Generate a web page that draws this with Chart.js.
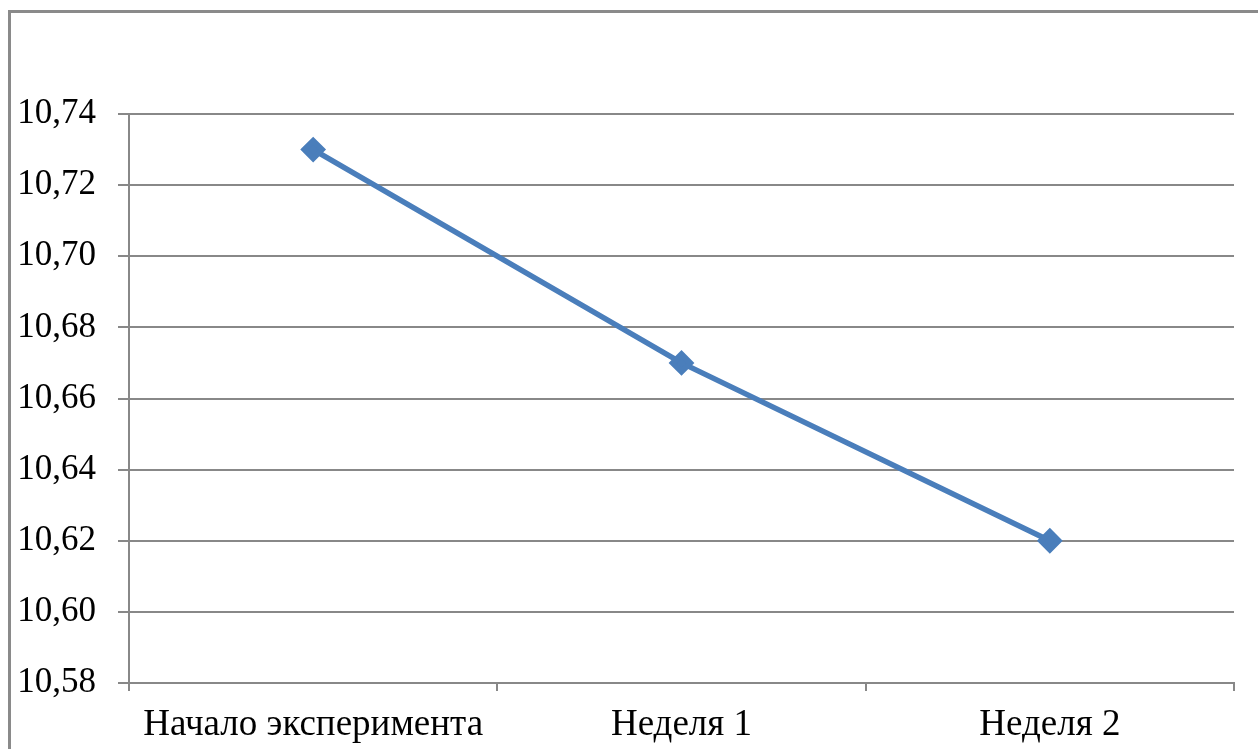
<!DOCTYPE html>
<html>
<head>
<meta charset="utf-8">
<script src="https://cdn.jsdelivr.net/npm/chart.js@4/dist/chart.umd.min.js"></script>
<style>
  html, body { margin: 0; padding: 0; background: #fff; overflow: hidden; }
  #wrap { position: relative; width: 1258px; height: 749px; }
  #frame { position: absolute; left: 8px; top: 10px; width: 1400px; height: 900px;
           border: 3px solid #8a8a8a; box-sizing: border-box; }
  canvas { position: absolute; left: 0; top: 0; }
</style>
</head>
<body>
<div id="wrap">
  <div id="frame"></div>
  <canvas id="chart" width="1258" height="749"></canvas>
</div>
<script>
// Measurement stages and the recorded values
const categories = ['Начало эксперимента', 'Неделя 1', 'Неделя 2'];
const values = [10.73, 10.67, 10.62];
const yTickValues = [10.58, 10.60, 10.62, 10.64, 10.66, 10.68, 10.70, 10.72, 10.74];

const gridGray = '#888888';
const serif = '"Liberation Serif", "Times New Roman", serif';

new Chart(document.getElementById('chart'), {
  type: 'line',
  data: {
    labels: categories,
    datasets: [{
      data: values,
      borderColor: '#4a7ebb',
      backgroundColor: '#4a7ebb',
      borderWidth: 5.5,
      pointStyle: 'rectRot',
      pointRadius: 9,
      pointHoverRadius: 9,
      tension: 0,
      fill: false
    }]
  },
  options: {
    responsive: false,
    animation: false,
    layout: { padding: { top: 114, right: 24, left: 0, bottom: 0 } },
    plugins: { legend: { display: false }, tooltip: { enabled: false } },
    scales: {
      x: {
        offset: true,
        grid: { offset: true, drawOnChartArea: false, drawTicks: true, tickLength: 8, color: gridGray, lineWidth: 2 },
        border: { display: true, color: gridGray, width: 2 },
        ticks: { color: '#000', font: { family: serif, size: 37 }, padding: 12, maxRotation: 0, autoSkip: false },
        afterFit: s => { s.height = 66; }
      },
      y: {
        min: yTickValues[0],
        max: yTickValues[yTickValues.length - 1],
        afterBuildTicks: s => { s.ticks = yTickValues.map(v => ({ value: v })); },
        grid: { color: gridGray, lineWidth: 2, tickLength: 11 },
        border: { display: true, color: gridGray, width: 2 },
        ticks: {
          color: '#000', font: { family: serif, size: 35 }, padding: 22,
          callback: v => Number(v).toFixed(2).replace('.', ',')
        },
        afterFit: s => { s.width = 129; }
      }
    }
  }
});
</script>
</body>
</html>
